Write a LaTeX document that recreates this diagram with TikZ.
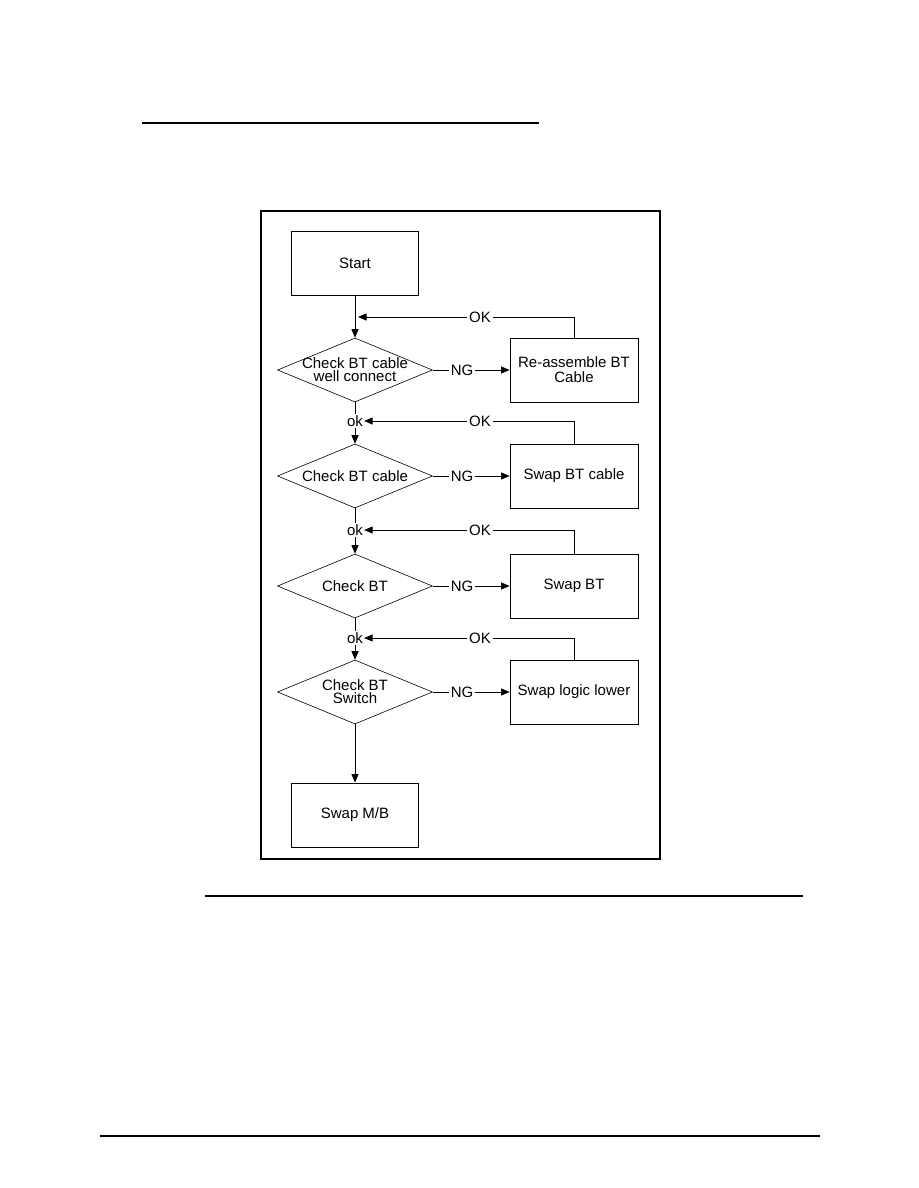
\documentclass[tikz,border=0pt]{standalone}
\usepackage{fontspec}
\setmainfont{Liberation Sans}
\usetikzlibrary{shapes.geometric,arrows.meta}
\begin{document}
\begin{tikzpicture}[x=1pt,y=-1pt,
  box/.style={draw,line width=0.8pt,minimum width=128pt,minimum height=64pt,inner sep=0pt,font=\fontsize{15}{15}\selectfont,align=center},
  dia/.style={draw,diamond,line width=0.6pt,minimum width=155pt,minimum height=64pt,inner sep=0pt,aspect=2.42},
  lbl/.style={font=\fontsize{15}{13}\selectfont,align=center,inner sep=1pt},
  tag/.style={font=\fontsize{15}{15}\selectfont,fill=white,inner sep=1.5pt},
  arr/.style={-{Triangle[length=8.5pt,width=7pt]},line width=0.8pt},
  ln/.style={line width=0.8pt},
]
\useasboundingbox (0,0) rectangle (918,1188);
% decorative rules
\draw[line width=2.2pt] (142,123) -- (539,123);
\draw[line width=1.2pt] (205,896) -- (803,896);
\draw[line width=1.4pt] (100,1136) -- (820,1136);
% frame
\node[draw,line width=1.5pt,minimum width=399pt,minimum height=648pt,inner sep=0pt] (frame) at (460.5,535) {};
% main column
\node[box,minimum width=127pt] (start) at (355,263) {Start};
\node[dia] (d1) at (355,370) {};
\node[lbl] (t1) at (d1.center) {Check BT cable\\well connect};
\node[dia] (d2) at (355,476) {};
\node[lbl] (t2) at (d2.center) {Check BT cable};
\node[dia] (d3) at (355,586) {};
\node[lbl] (t3) at (d3.center) {Check BT};
\node[dia] (d4) at (355,692) {};
\node[lbl] (t4) at (d4.center) {Check BT\\Switch};
\node[box,minimum width=127pt] (mb) at (355,815) {Swap M/B};
% right column
\node[box] (b1) at (574,370) {Re-assemble BT\\Cable};
\node[box] (b2) at (574,476) {Swap BT cable};
\node[box] (b3) at (574,586) {Swap BT};
\node[box] (b4) at (574,692) {Swap logic lower};
% junctions
\coordinate (j1) at (358,317);
\node[lbl] (k1) at (355,421) {ok};
\node[lbl] (k2) at (355,530) {ok};
\node[lbl] (k3) at (355,638) {ok};
% OK labels
\node[tag] (o1) at (480,317) {OK};
\node[tag] (o2) at (480,421) {OK};
\node[tag] (o3) at (480,530) {OK};
\node[tag] (o4) at (480,638) {OK};
% NG labels
\node[tag] (n1) at (462,370) {NG};
\node[tag] (n2) at (462,476) {NG};
\node[tag] (n3) at (462,586) {NG};
\node[tag] (n4) at (462,692) {NG};
% vertical flow
\draw[arr] (start.south) -- (d1.north);
\draw[ln] (d1.south) -- (d1.south |- k1.north);
\draw[arr] (k1.south -| d2.north) -- (d2.north);
\draw[ln] (d2.south) -- (d2.south |- k2.north);
\draw[arr] (k2.south -| d3.north) -- (d3.north);
\draw[ln] (d3.south) -- (d3.south |- k3.north);
\draw[arr] (k3.south -| d4.north) -- (d4.north);
\draw[arr] (d4.south) -- (mb.north);
% NG arrows
\foreach \i in {1,2,3,4}{
  \draw[ln] (d\i.east) -- (n\i.west);
  \draw[arr] (n\i.east) -- (b\i.west);
  \draw[ln] (b\i.north) |- (o\i.east);
}
% OK returns
\draw[arr] (o1.west) -- (j1);
\draw[arr] (o2.west) -- (k1.east);
\draw[arr] (o3.west) -- (k2.east);
\draw[arr] (o4.west) -- (k3.east);
\end{tikzpicture}
\end{document}
